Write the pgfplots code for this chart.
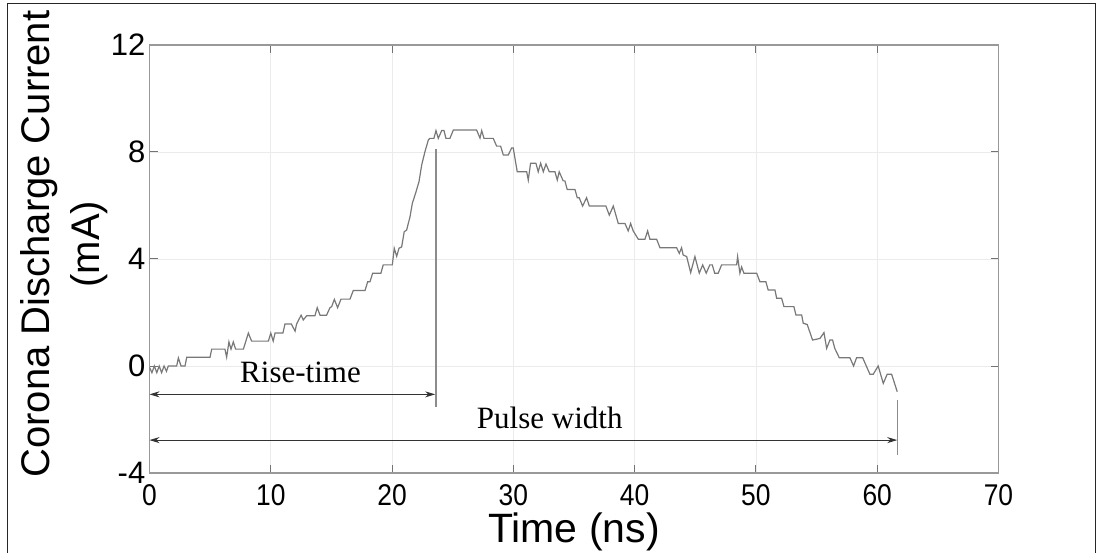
\documentclass[border=0pt]{standalone}
\usepackage{pgfplots}
\pgfplotsset{compat=1.18}
\usepackage{fontspec}
\setmainfont{Liberation Sans}
\newfontfamily\serifa{Liberation Serif}
\usetikzlibrary{arrows.meta}
\definecolor{curve}{RGB}{120,120,120}
\definecolor{vline}{RGB}{140,140,140}
\begin{document}
\begin{tikzpicture}[x=1pt,y=1pt]
\useasboundingbox (0,0) rectangle (1097,552);
\draw[line width=1.5pt, black!85] (7.5,-2) -- (7.5,548.5) -- (1095.5,548.5) -- (1095.5,-2);
\begin{axis}[
  at={(149.5pt,79pt)}, anchor=south west,
  scale only axis, width=849pt, height=428pt,
  xmin=0, xmax=70, ymin=-4, ymax=12,
  xtick={0,10,20,30,40,50,60,70},
  ytick={-4,0,4,8,12},
  xticklabels={0,10,20,30,40,50,60,70},
  yticklabels={-4,0,4,8,12},
  tick align=inside, major tick length=8pt,
  tick style={line width=1pt, black!55},
  axis line style={line width=1.2pt, black!40},
  grid=major, major grid style={line width=0.8pt, black!8},
  yticklabel style={inner sep=0pt, xshift=-4pt, font=\fontsize{31}{31}\selectfont},
  xticklabel style={inner sep=0pt, yshift=-11pt, font=\fontsize{30}{30}\selectfont, xscale=0.88},
  xlabel={Time (ns)},
  xlabel style={at={(axis description cs:0.5,0)}, anchor=base, yshift=-69pt, font=\fontsize{41}{41}\selectfont},
  ylabel={Corona Discharge Current\\(mA)},
  ylabel style={at={(axis description cs:-0.101,0.535)}, anchor=center, align=center, font=\fontsize{40}{50}\selectfont},
]
\addplot[curve, line width=1.2pt] coordinates {
(0.0,-0.05)(0.2,-0.25)(0.4,0)(0.6,-0.25)(0.8,0)(1.0,-0.25)(1.2,0)(1.4,-0.2)(1.55,0)
(2.24,0.0)(2.38,0.3)(2.6,0.0)(2.93,0.0)(3.07,0.33)(4.99,0.33)(5.13,0.63)(6.22,0.63)(6.36,0.33)(6.55,0.9)(6.72,0.63)(6.91,0.9)(7.1,0.63)(7.74,0.63)(8.15,1.23)(8.42,0.93)(9.8,0.93)(10.0,1.23)(10.2,0.93)(10.35,1.23)(11.0,1.23)(11.17,1.57)(11.7,1.57)(12.0,1.3)(12.13,1.57)(12.5,1.9)
(12.68,1.72)(12.96,1.88)(13.64,1.88)(13.83,2.18)(14.06,1.9)(14.6,1.9)(14.88,2.18)(15.02,2.22)(15.24,2.49)(15.51,2.18)(15.79,2.5)(16.53,2.5)(16.8,2.82)(17.77,2.82)(17.99,3.15)(18.18,3.15)(18.4,3.47)(19.08,3.47)(19.27,3.78)(20.02,3.78)(20.18,4.4)(20.38,4.1)(20.57,4.4)(20.79,4.45)(21.0,5.02)(21.2,5.08)(21.48,5.58)(21.67,6.08)(21.94,6.46)(22.22,6.89)(22.44,7.51)(22.71,8.01)(22.99,8.45)
(23.12,8.51)(23.45,8.51)(23.62,8.8)(23.81,8.51)(24.09,8.8)(24.28,8.8)(24.44,8.51)(24.77,8.51)(25.05,8.82)(26.97,8.82)(27.25,8.52)(27.39,8.8)(27.58,8.51)(28.34,8.51)(28.62,8.22)(28.95,8.22)(29.17,7.89)(29.58,7.89)(29.86,8.15)(29.99,8.15)(30.32,7.26)(31.1,7.26)(31.23,6.95)(31.42,7.58)(31.86,7.58)(32.05,7.26)(32.25,7.58)(32.47,7.26)(32.69,7.55)(32.96,7.26)(33.43,7.26)(33.62,6.95)(33.78,7.26)
(34.11,6.92)(34.25,6.92)(34.44,6.6)(35.08,6.6)(35.27,6.29)(35.43,6.29)(35.71,5.98)(36.04,6.29)(36.26,5.98)(37.63,5.98)(37.91,5.64)(38.24,5.98)(38.65,5.33)(39.2,5.33)(39.47,5.05)(39.67,5.33)(39.88,5.05)(40.3,4.74)(40.85,4.74)(41.07,5.05)(41.26,4.74)(41.81,4.74)(42.09,4.42)(43.46,4.42)(43.68,4.21)(43.87,4.42)(44.0,4.15)(44.29,4.09)(44.62,3.49)(44.97,4.09)
(45.33,3.47)(45.61,3.78)(45.9,3.47)(46.2,3.78)(46.4,3.78)(46.6,3.47)(46.89,3.47)(47.17,3.78)(48.41,3.78)(48.49,4.09)(48.68,3.47)(48.82,3.7)(49.01,3.47)(50.06,3.47)(50.33,3.15)(50.82,3.15)(51.01,2.84)(51.57,2.84)(51.71,2.53)(52.12,2.53)(52.31,2.22)(53.13,2.22)(53.3,1.91)(53.77,1.91)(53.9,1.6)(54.23,1.55)(54.67,0.97)(55.28,1.03)(55.61,1.25)(55.83,0.66)(56.1,0.97)(56.32,0.97)(56.5,0.66)(56.87,0.31)(57.75,0.31)(58.05,0.0)(58.3,0.31)(58.8,0.31)(59.4,-0.31)(59.67,-0.31)(60.08,0.0)(60.28,-0.31)(60.5,-0.65)(60.82,-0.31)(61.19,-0.31)(61.65,-0.96)
};
\addplot[vline, line width=1.2pt, forget plot] coordinates {(23.62,8.1)(23.62,-1.52)};
\addplot[vline, line width=1.2pt, forget plot] coordinates {(61.7,-1.27)(61.7,-3.33)};
\addplot[black!80, line width=0.9pt, {Stealth[length=10pt,width=6pt]}-{Stealth[length=10pt,width=6pt]}, forget plot] coordinates {(0,-1.06)(23.55,-1.06)};
\addplot[black!80, line width=0.9pt, {Stealth[length=10pt,width=6pt]}-{Stealth[length=10pt,width=6pt]}, forget plot] coordinates {(0,-2.77)(61.65,-2.77)};
\node[anchor=base, font=\serifa\fontsize{31}{31}\selectfont] at (axis cs:12.45,-0.62) {Rise-time};
\node[anchor=base, font=\serifa\fontsize{31}{31}\selectfont] at (axis cs:33.0,-2.32) {Pulse width};
\end{axis}
\end{tikzpicture}
\end{document}
